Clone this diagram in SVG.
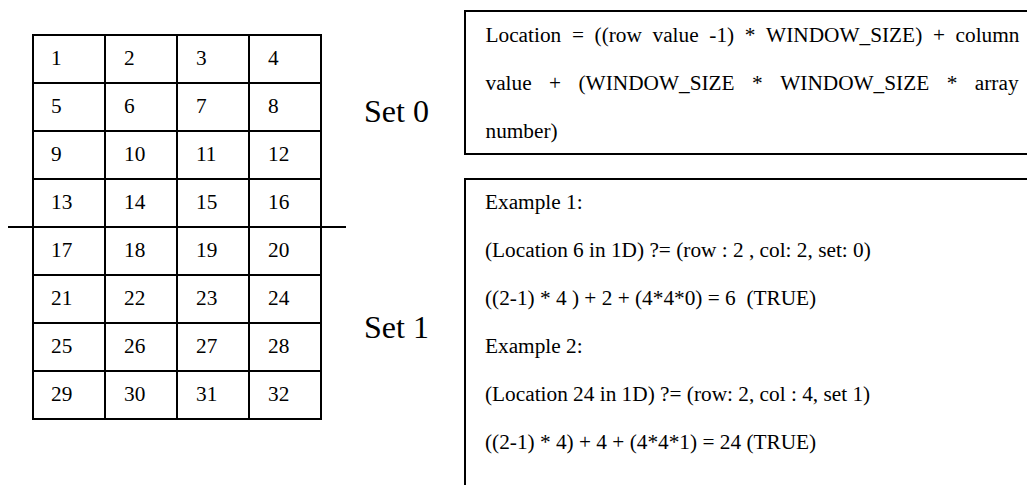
<svg xmlns="http://www.w3.org/2000/svg" width="1027" height="485" viewBox="0 0 1027 485">
  <style>
    .grid { fill: none; stroke: #000; stroke-width: 2; }
    .cell { font-family: "Liberation Serif", "Times New Roman", serif; font-size: 21.3px; fill: #000; }
    .txt { font-family: "Liberation Serif", "Times New Roman", serif; font-size: 21.3px; fill: #000; white-space: pre; }
    .set { font-family: "Liberation Serif", "Times New Roman", serif; font-size: 32px; fill: #000; }
  </style>
  <rect width="1027" height="485" fill="#fff"/>

  <!-- 8x4 memory window table -->
  <g id="table">
    <rect class="grid" x="33" y="35" width="288" height="384"/>
    <path class="grid" d="M105 35V419M177 35V419M249 35V419
      M33 83H321M33 131H321M33 179H321M33 227H321M33 275H321M33 323H321M33 371H321"/>
    <g class="cell">
      <text x="51" y="65">1</text><text x="124" y="65">2</text><text x="196" y="65">3</text><text x="268" y="65">4</text>
      <text x="51" y="113">5</text><text x="124" y="113">6</text><text x="196" y="113">7</text><text x="268" y="113">8</text>
      <text x="51" y="161">9</text><text x="124" y="161">10</text><text x="196" y="161">11</text><text x="268" y="161">12</text>
      <text x="51" y="209">13</text><text x="124" y="209">14</text><text x="196" y="209">15</text><text x="268" y="209">16</text>
      <text x="51" y="257">17</text><text x="124" y="257">18</text><text x="196" y="257">19</text><text x="268" y="257">20</text>
      <text x="51" y="305">21</text><text x="124" y="305">22</text><text x="196" y="305">23</text><text x="268" y="305">24</text>
      <text x="51" y="353">25</text><text x="124" y="353">26</text><text x="196" y="353">27</text><text x="268" y="353">28</text>
      <text x="51" y="401">29</text><text x="124" y="401">30</text><text x="196" y="401">31</text><text x="268" y="401">32</text>
    </g>
  </g>

  <!-- divider between the two sets -->
  <g id="connectors">
    <line class="grid" x1="8" y1="227" x2="346" y2="227"/>
  </g>

  <g id="set0"><text class="set" x="364" y="122">Set 0</text></g>
  <g id="set1"><text class="set" x="364" y="338">Set 1</text></g>

  <!-- formula box (justified text) -->
  <g id="formula">
    <rect class="grid" x="465" y="11" width="580" height="143"/>
    <text class="cell" y="42">
      <tspan x="485.5">Location</tspan><tspan x="571.9">=</tspan><tspan x="594.6">((row</tspan><tspan x="652.5">value</tspan><tspan x="709.3">-1)</tspan><tspan x="744.8">*</tspan><tspan x="766.1">WINDOW_SIZE)</tspan><tspan x="932.9">+</tspan><tspan x="955.6">column</tspan>
    </text>
    <text class="cell" y="90">
      <tspan x="485.5">value</tspan><tspan x="549.1">+</tspan><tspan x="578.5">(WINDOW_SIZE</tspan><tspan x="752.1">*</tspan><tspan x="780.2">WINDOW_SIZE</tspan><tspan x="946.7">*</tspan><tspan x="974.8">array</tspan>
    </text>
    <text class="cell" x="485.5" y="138">number)</text>
  </g>

  <!-- worked examples box -->
  <g id="examples">
    <rect class="grid" x="465" y="179" width="580" height="320"/>
    <text class="txt" x="485" y="209">Example 1:</text>
    <text class="txt" x="485" y="257">(Location 6 in 1D) ?= (row : 2 , col: 2, set: 0)</text>
    <text class="txt" x="485" y="305">((2-1) * 4 ) + 2 + (4*4*0) = 6  (TRUE)</text>
    <text class="txt" x="485" y="353">Example 2:</text>
    <text class="txt" x="485" y="401">(Location 24 in 1D) ?= (row: 2, col : 4, set 1)</text>
    <text class="txt" x="485" y="449">((2-1) * 4) + 4 + (4*4*1) = 24 (TRUE)</text>
  </g>
</svg>
